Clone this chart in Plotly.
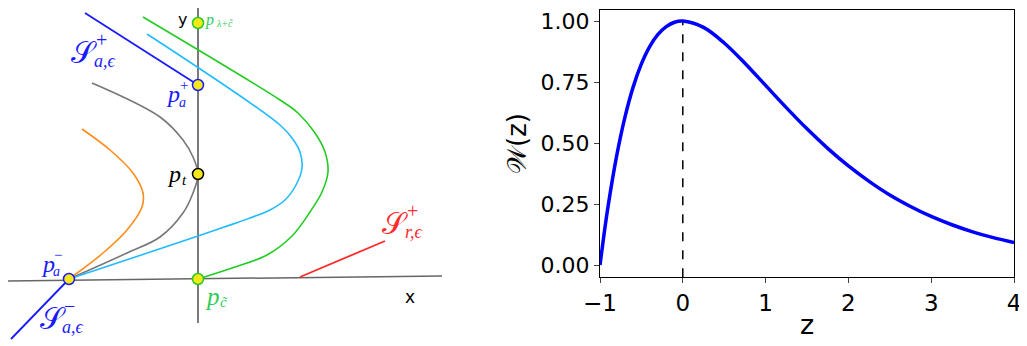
import plotly.graph_objects as go

# ---- right panel: W(z) ----
z_vals = [-1.0, -0.95, -0.9, -0.8, -0.7, -0.6, -0.5, -0.4, -0.3, -0.2, -0.1, 0.0,
          0.25, 0.5, 0.75, 1.0, 1.25, 1.5, 1.75, 2.0, 2.25, 2.5, 2.75, 3.0,
          3.25, 3.5, 3.75, 4.0]
w_vals = [0.0, 0.129, 0.246, 0.445, 0.604, 0.729, 0.824, 0.895, 0.945, 0.977, 0.995, 1.0,
          0.974, 0.910, 0.827, 0.736, 0.645, 0.558, 0.478, 0.406, 0.343, 0.287, 0.240, 0.199,
          0.165, 0.136, 0.112, 0.092]
x_ticks = [-1, 0, 1, 2, 3, 4]
y_ticks = [0.0, 0.25, 0.5, 0.75, 1.0]

# ---- left panel: schematic curves (sketch units, y grows downward) ----
x_axis_line = ([0, 442], [281, 276])
y_axis_line = ([198, 198], [0, 323])
s_a_plus = ([85, 198], [13, 85])
s_a_minus = ([69, 11], [279, 339])
s_r_plus = ([300, 385], [277, 241])
green_x = [143, 280, 298, 315, 325, 328, 322, 310, 292, 267, 235, 198]
green_y = [17, 100, 113, 133, 152, 172, 192, 212, 236, 255, 267, 279]
cyan_x = [147, 280, 292, 300, 302, 296, 285, 270, 250, 69]
cyan_y = [34, 125, 138, 152, 168, 185, 200, 210, 218, 279]
gray_x = [92, 160, 183, 193, 198, 193, 183, 160, 127, 69]
gray_y = [83, 117, 140, 157, 174, 193, 213, 237, 253, 279]
orange_x = [82, 110, 133, 143, 142, 127, 103, 69]
orange_y = [129, 150, 173, 193, 207, 230, 253, 279]
pt_x = [198, 198, 198, 69, 198]
pt_y = [23, 85, 174, 279, 279]
pt_edge = ["#22cc22", "#1a1aff", "#000000", "#1a1aff", "#22cc22"]

BLUE = "#1a1aff"
GREEN = "#22cc22"
LGREEN = "#2ecc55"
RED = "#ff2a2a"
W, H = 1027, 346
OFF = 8  # page offset of the figure

fig = go.Figure()

def sketch(x, y, color, width=1.6, shape="linear"):
    fig.add_trace(go.Scatter(x=x, y=y, mode="lines", xaxis="x2", yaxis="y2",
                             line=dict(color=color, width=width, shape=shape),
                             showlegend=False, hoverinfo="skip"))

sketch(*x_axis_line, "#666666", 1.5)
sketch(*y_axis_line, "#333333", 1.3)
sketch(*s_a_plus, BLUE, 1.8)
sketch(*s_a_minus, BLUE, 1.8)
sketch(*s_r_plus, RED, 1.8)
sketch(orange_x, orange_y, "#ff8c1a", 1.6, "spline")
sketch(gray_x, gray_y, "#777777", 1.6, "spline")
sketch(cyan_x, cyan_y, "#22bbff", 1.6, "spline")
sketch(green_x, green_y, GREEN, 1.6, "spline")

fig.add_trace(go.Scatter(x=pt_x, y=pt_y, mode="markers", xaxis="x2", yaxis="y2",
                         marker=dict(size=11, color="#f7e81a",
                                     line=dict(color=pt_edge, width=1.5)),
                         showlegend=False, hoverinfo="skip"))

# right panel traces
fig.add_trace(go.Scatter(x=[0, 0], y=[-0.05, 1.0], mode="lines",
                         line=dict(color="black", width=1.5, dash="dash"),
                         showlegend=False, hoverinfo="skip"))
fig.add_trace(go.Scatter(x=z_vals, y=w_vals, mode="lines",
                         line=dict(color="#0000ff", width=3.5, shape="spline"),
                         showlegend=False))

serif = "Liberation Serif"
ann = []

def lab(x, y, text, color, size, family=serif, italic=True):
    t = f"<i>{text}</i>" if italic else text
    ann.append(dict(x=x, y=y, xref="x2", yref="y2", text=t, showarrow=False,
                    font=dict(family=family, size=size, color=color),
                    xanchor="left", yanchor="middle"))

lab(176, 19, "y", "black", 16, "DejaVu Sans", False)
lab(403, 297, "x", "black", 17, "DejaVu Sans", False)
# S_a,eps^+
lab(69, 52, "𝒮", BLUE, 30, serif, False)
lab(94, 40, "+", BLUE, 20, serif, False)
lab(92, 61, "a,ϵ", BLUE, 18)
# p_a^+
lab(164, 94, "p", BLUE, 24)
lab(178, 85, "+", BLUE, 15, serif, False)
lab(177, 102, "a", BLUE, 14)
# p_lambda+c~
lab(203, 20, "p", LGREEN, 16)
lab(214, 23, "λ+c̃", LGREEN, 10)
# p_t
lab(165, 174, "p", "black", 24)
lab(180, 180, "t", "black", 15)
# p_a^-
lab(39, 264, "p", BLUE, 24)
lab(52, 255, "−", BLUE, 15, serif, False)
lab(51, 271, "a", BLUE, 14)
# S_a,eps^-
lab(38, 318, "𝒮", BLUE, 30, serif, False)
lab(62, 306, "−", BLUE, 20, serif, False)
lab(60, 327, "a,ϵ", BLUE, 18)
# p_c~
lab(203, 296, "p", LGREEN, 25)
lab(218, 302, "c̃", LGREEN, 15)
# S_r,eps^+
lab(380, 223, "𝒮", RED, 30, serif, False)
lab(405, 211, "+", RED, 20, serif, False)
lab(403, 232, "r,ϵ", RED, 18)

# right plot area in page pixels: x 600..1014, y 10..277
# value 0 at page 265, value 1 at page 21
top_px, bot_px = 10, 277
px_per_unit = 265 - 21
y_lo = -(bot_px - 265) / px_per_unit
y_hi = 1 + (21 - top_px) / px_per_unit

fig.update_layout(
    width=W, height=H,
    margin=dict(l=0, r=0, t=0, b=0),
    paper_bgcolor="white", plot_bgcolor="white",
    font=dict(family="DejaVu Sans", color="black"),
    annotations=ann,
    xaxis=dict(domain=[(600 - OFF) / W, (1014 - OFF) / W], range=[-1, 4],
               tickvals=x_ticks, ticks="outside", ticklen=5, tickwidth=1,
               showline=True, linecolor="black", linewidth=1, mirror=True,
               showgrid=False, zeroline=False, tickfont=dict(size=23),
               automargin=False, ticklabeloverflow="allow",
               title=dict(text="z", font=dict(size=27), standoff=0)),
    yaxis=dict(domain=[1 - (bot_px - OFF) / H, 1 - (top_px - OFF) / H],
               range=[y_lo, y_hi],
               tickvals=y_ticks, tickformat=".2f", ticks="outside", ticklen=5,
               tickwidth=1, showline=True, linecolor="black", linewidth=1,
               mirror=True, showgrid=False, zeroline=False, tickfont=dict(size=22),
               automargin=False, ticklabeloverflow="allow",
               title=dict(text="𝒲(z)", font=dict(size=26), standoff=6)),
    xaxis2=dict(domain=[0, 445 / W], range=[OFF, 445 + OFF], visible=False,
                fixedrange=True, automargin=False),
    yaxis2=dict(domain=[0, 1], range=[H + OFF, OFF], visible=False,
                fixedrange=True, automargin=False),
)

fig.write_html("out.html")
